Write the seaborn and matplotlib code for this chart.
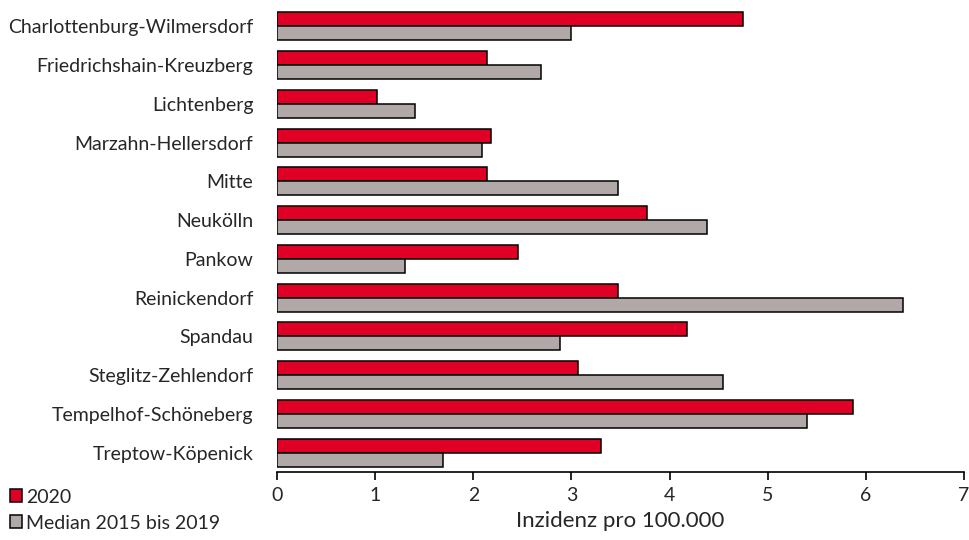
import pandas as pd
import seaborn as sns
import matplotlib.pyplot as plt

# Bezirke und Werte (Inzidenz pro 100.000)
bezirke = ["Charlottenburg-Wilmersdorf", "Friedrichshain-Kreuzberg", "Lichtenberg",
           "Marzahn-Hellersdorf", "Mitte", "Neukölln", "Pankow", "Reinickendorf",
           "Spandau", "Steglitz-Zehlendorf", "Tempelhof-Schöneberg", "Treptow-Köpenick"]
werte_2020 = [4.75, 2.14, 1.02, 2.18, 2.14, 3.77, 2.46, 3.47, 4.18, 3.07, 5.87, 3.30]
werte_median = [3.00, 2.69, 1.41, 2.09, 3.47, 4.38, 1.30, 6.38, 2.88, 4.54, 5.40, 1.69]
serien = ["2020", "Median 2015 bis 2019"]
x_ticks = [0, 1, 2, 3, 4, 5, 6, 7]

df = pd.DataFrame({
    "bezirk": bezirke * 2,
    "wert": werte_2020 + werte_median,
    "serie": [serien[0]] * len(bezirke) + [serien[1]] * len(bezirke),
})

sns.set_theme(style="white")
plt.rcParams['font.family'] = ['Lato', 'DejaVu Sans']

fig = plt.figure(figsize=(9.69, 5.4), dpi=100)
ax = fig.add_axes([277 / 969, 1 - 472 / 540, (964 - 277) / 969, (472 - 7) / 540])

sns.barplot(data=df, y="bezirk", x="wert", hue="serie", orient="h",
            palette=["#E10025", "#B1A9A7"], saturation=1, edgecolor="black",
            linewidth=1.1, width=0.72, order=bezirke, hue_order=serien, ax=ax)

ax.set_xlim(0, 7)
ax.set_ylim(11.5, -0.5)
ax.set_xticks(x_ticks)
ax.set_xlabel("Inzidenz pro 100.000", fontsize=16, labelpad=5)
ax.set_ylabel("")
ax.tick_params(axis="x", direction="out", length=6, width=1.2, color="black",
               labelsize=14, pad=5, bottom=True)
ax.tick_params(axis="y", length=0, pad=17, labelsize=14)

for s in ["top", "right", "left"]:
    ax.spines[s].set_visible(False)
ax.spines["bottom"].set_color("black")
ax.spines["bottom"].set_linewidth(1.2)

handles, labels = ax.get_legend_handles_labels()
ax.get_legend().remove()
fig.legend(handles, labels, loc="upper left", bbox_to_anchor=(0.002, 1 - 481 / 540),
           frameon=False, fontsize=14, handlelength=0.65, handleheight=0.65,
           handletextpad=0.2, labelspacing=0.45, borderaxespad=0)

fig.savefig("out.png", dpi=100)
